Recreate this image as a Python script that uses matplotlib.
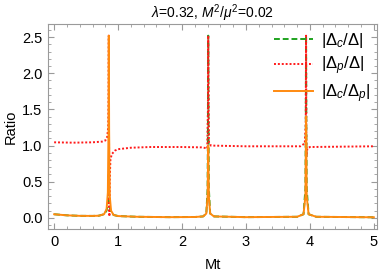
"""
Ratio of gap components against Mt, drawn in a Mathematica-like frame.
"""

import matplotlib
matplotlib.use("Agg")
import matplotlib.pyplot as plt
from matplotlib.ticker import MultipleLocator

# |Delta_c / Delta|
mt_c = [0.0, 0.2, 0.4, 0.6, 0.7, 0.78, 0.82, 0.84, 0.85, 0.855, 0.86, 0.87, 0.89, 0.93,
        1.0, 1.3, 1.8, 2.2, 2.33, 2.38, 2.40, 2.405, 2.41, 2.415, 2.42, 2.44, 2.5, 3.0,
        3.8, 3.9, 3.93, 3.935, 3.94, 3.945, 3.95, 3.98, 4.1, 5.0]
ratio_c = [0.05, 0.035, 0.028, 0.027, 0.03, 0.05, 0.1, 0.2, 0.4, 0.6, 0.3, 0.15, 0.08, 0.04,
           0.025, 0.015, 0.01, 0.012, 0.02, 0.06, 0.4, 1.2, 2.52, 1.2, 0.4, 0.06, 0.02, 0.01,
           0.015, 0.05, 0.4, 1.2, 2.52, 1.2, 0.4, 0.05, 0.015, 0.008]

# |Delta_p / Delta|
mt_p = [0.0, 0.3, 0.6, 0.75, 0.8, 0.83, 0.845, 0.851, 0.855, 0.858, 0.861, 0.864, 0.868,
        0.88, 0.9, 0.95, 1.0, 1.2, 1.5, 2.0, 2.3, 2.38, 2.395, 2.405, 2.41, 2.415, 2.42,
        2.45, 3.0, 3.85, 3.92, 3.935, 3.94, 3.945, 3.96, 4.0, 5.0]
ratio_p = [1.045, 1.04, 1.045, 1.055, 1.07, 1.12, 1.25, 1.6, 2.52, 1.2, 0.4, 0.02, 0.5,
           0.8, 0.88, 0.93, 0.95, 0.97, 0.98, 0.98, 0.975, 0.965, 0.96, 1.5, 2.52, 1.8, 1.05,
           1.0, 0.99, 0.99, 1.03, 1.3, 2.52, 0.85, 0.96, 0.98, 0.99]

# |Delta_c / Delta_p|
mt_cp = [0.0, 0.2, 0.4, 0.6, 0.7, 0.78, 0.82, 0.84, 0.85, 0.855, 0.86, 0.87, 0.89, 0.93,
         1.0, 1.3, 1.8, 2.2, 2.33, 2.38, 2.40, 2.41, 2.42, 2.44, 2.5, 3.0,
         3.8, 3.9, 3.93, 3.94, 3.95, 3.98, 4.1, 5.0]
ratio_cp = [0.05, 0.035, 0.028, 0.027, 0.03, 0.05, 0.12, 0.35, 1.2, 2.52, 1.2, 0.3, 0.1, 0.04,
            0.025, 0.015, 0.01, 0.012, 0.02, 0.06, 0.3, 1.0, 0.3, 0.06, 0.02, 0.01,
            0.015, 0.05, 0.3, 1.4, 0.3, 0.05, 0.015, 0.008]

plt.rcParams["font.family"] = ["Liberation Sans", "DejaVu Sans"]
plt.rcParams["mathtext.fontset"] = "custom"
plt.rcParams["mathtext.rm"] = "Liberation Sans"
plt.rcParams["mathtext.it"] = "Liberation Sans:italic"
plt.rcParams["mathtext.bf"] = "Liberation Sans:bold"
plt.rcParams["font.size"] = 10.5

frame_gray = "#9a9a9a"

fig = plt.figure(figsize=(3.82, 2.77), dpi=100)
ax = fig.add_axes([0.126, 0.173, 0.861, 0.740])

ax.plot(mt_c, ratio_c, color="#1fa31f", ls=(0, (3, 1.5)), lw=1.4, label=r"$|\Delta_c/\Delta|$")
ax.plot(mt_p, ratio_p, color="#ff1a1a", ls=(0, (1, 1)), lw=1.4, label=r"$|\Delta_p/\Delta|$")
ax.plot(mt_cp, ratio_cp, color="#ff8a10", ls="-", lw=1.4, label=r"$|\Delta_c/\Delta_p|$")

ax.set_xlim(-0.094, 5.05)
ax.set_ylim(-0.155, 2.68)
ax.xaxis.set_major_locator(MultipleLocator(1))
ax.xaxis.set_minor_locator(MultipleLocator(0.2))
ax.yaxis.set_major_locator(MultipleLocator(0.5))
ax.yaxis.set_minor_locator(MultipleLocator(0.1))
ax.yaxis.set_major_formatter(plt.FuncFormatter(lambda v, _: f"{v:.1f}"))

for side in ax.spines.values():
    side.set_color(frame_gray)
    side.set_linewidth(0.8)
ax.tick_params(which="both", direction="in", top=True, right=True, color=frame_gray,
               labelsize=10.5, pad=4)
ax.tick_params(which="major", length=4, width=0.8)
ax.tick_params(which="minor", length=2, width=0.6)

ax.set_xlabel("Mt", fontsize=10.5, labelpad=7)
ax.set_ylabel("Ratio", fontsize=10.5, labelpad=3)
ax.set_title(r"$\lambda$=0.32, $M^2/\mu^2$=0.02", fontsize=10, pad=4)

ax.legend(loc="upper right", bbox_to_anchor=(1.0, 1.0), frameon=False, fontsize=12,
          handlelength=2.3, handletextpad=0.5, labelspacing=0.3, borderaxespad=0.0)

fig.savefig("out.png", dpi=100)
plt.close(fig)
